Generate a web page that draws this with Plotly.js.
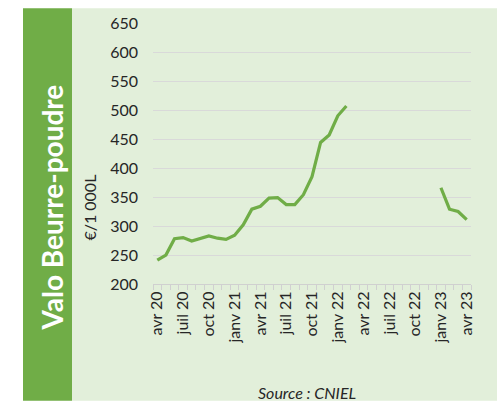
<!DOCTYPE html>
<html>
<head>
<meta charset="utf-8">
<script src="https://cdn.plot.ly/plotly-3.0.1.min.js"></script>
<style>html,body{margin:0;padding:0;background:#fff;}#chart{width:498px;height:401px;}</style>
</head>
<body>
<div id="chart"></div>
<script>
// Monthly categories avr 20 .. avr 23
const months = [
  "avr 20","mai 20","juin 20","juil 20","août 20","sept 20","oct 20","nov 20","déc 20",
  "janv 21","févr 21","mars 21","avr 21","mai 21","juin 21","juil 21","août 21","sept 21","oct 21","nov 21","déc 21",
  "janv 22","févr 22","mars 22","avr 22","mai 22","juin 22","juil 22","août 22","sept 22","oct 22","nov 22","déc 22",
  "janv 23","févr 23","mars 23","avr 23"
];
// Valo Beurre-poudre (€/1 000L)
const valo = [
  241, 250, 278, 280, 274, 278, 283, 279, 277,
  284, 302, 329, 334, 348, 349, 337, 337, 354, 385, 444, 457,
  490, 507, null, null, null, null, null, null, null, null, null, null,
  366, 329, 325, 311
];
// Labelled ticks every 3 months
const labelled = ["avr 20","juil 20","oct 20","janv 21","avr 21","juil 21","oct 21","janv 22","avr 22","juil 22","oct 22","janv 23","avr 23"];
const yTicks = [200, 250, 300, 350, 400, 450, 500, 550, 600, 650];

const W = 498, H = 401;
const L = 153, R = 471, T = 22.7, B = 284;
const px = v => (v - L) / (R - L);
const py = v => (B - v) / (B - T);

const tickText = months.map(m => labelled.includes(m) ? m : "");

const trace = {
  x: months, y: valo, type: "scatter", mode: "lines",
  line: {color: "#70ad47", width: 3.2}, connectgaps: false, hoverinfo: "skip"
};

const layout = {
  width: W, height: H,
  margin: {l: L, r: W - R, t: T, b: H - B, pad: 0},
  paper_bgcolor: "#ffffff",
  plot_bgcolor: "rgba(0,0,0,0)",
  showlegend: false,
  font: {family: "Lato, 'Open Sans', sans-serif", color: "#262626"},
  xaxis: {
    type: "category", categoryorder: "array", categoryarray: months,
    range: [-0.5, months.length - 0.5],
    tickmode: "array", tickvals: months, ticktext: tickText,
    tickson: "boundaries", ticks: "outside", ticklen: 5, tickcolor: "#d0d0d0", tickwidth: 1,
    tickangle: -90, tickfont: {size: 16, family: "Lato, sans-serif", color: "#262626"},
    showline: true, linecolor: "#d0d0d0", linewidth: 1,
    showgrid: false, zeroline: false, fixedrange: true
  },
  yaxis: {
    range: [200, 650], tickmode: "array", tickvals: yTicks,
    ticks: "", ticklabelstandoff: 14,
    tickfont: {size: 16, family: "Lato, sans-serif", color: "#262626"},
    showgrid: true, gridcolor: "#d9d9d9", gridwidth: 1,
    zeroline: false, showline: false, fixedrange: true
  },
  shapes: [
    {type: "rect", xref: "paper", yref: "paper", layer: "below",
     x0: px(72), x1: px(497), y0: py(401), y1: py(8),
     fillcolor: "#e2efda", line: {width: 0}},
    {type: "rect", xref: "paper", yref: "paper", layer: "below",
     x0: px(23), x1: px(72), y0: py(401), y1: py(8),
     fillcolor: "#70ad47", line: {width: 0}}
  ],
  annotations: [
    {text: "<b>Valo Beurre-poudre</b>", xref: "paper", yref: "paper",
     x: px(52), y: py(207.5), textangle: -90, showarrow: false,
     xanchor: "center", yanchor: "middle",
     font: {size: 28, family: "Lato, sans-serif", color: "#ffffff"}},
    {text: "€/1 000L", xref: "paper", yref: "paper",
     x: px(90), y: py(207.5), textangle: -90, showarrow: false,
     xanchor: "center", yanchor: "middle",
     font: {size: 16, family: "Lato, sans-serif", color: "#262626"}},
    {text: "<i>Source : CNIEL</i>", xref: "paper", yref: "paper",
     x: px(307), y: py(393), showarrow: false,
     xanchor: "center", yanchor: "middle",
     font: {size: 16, family: "Lato, sans-serif", color: "#262626"}}
  ]
};

Plotly.newPlot("chart", [trace], layout, {displayModeBar: false, staticPlot: true});
</script>
</body>
</html>
